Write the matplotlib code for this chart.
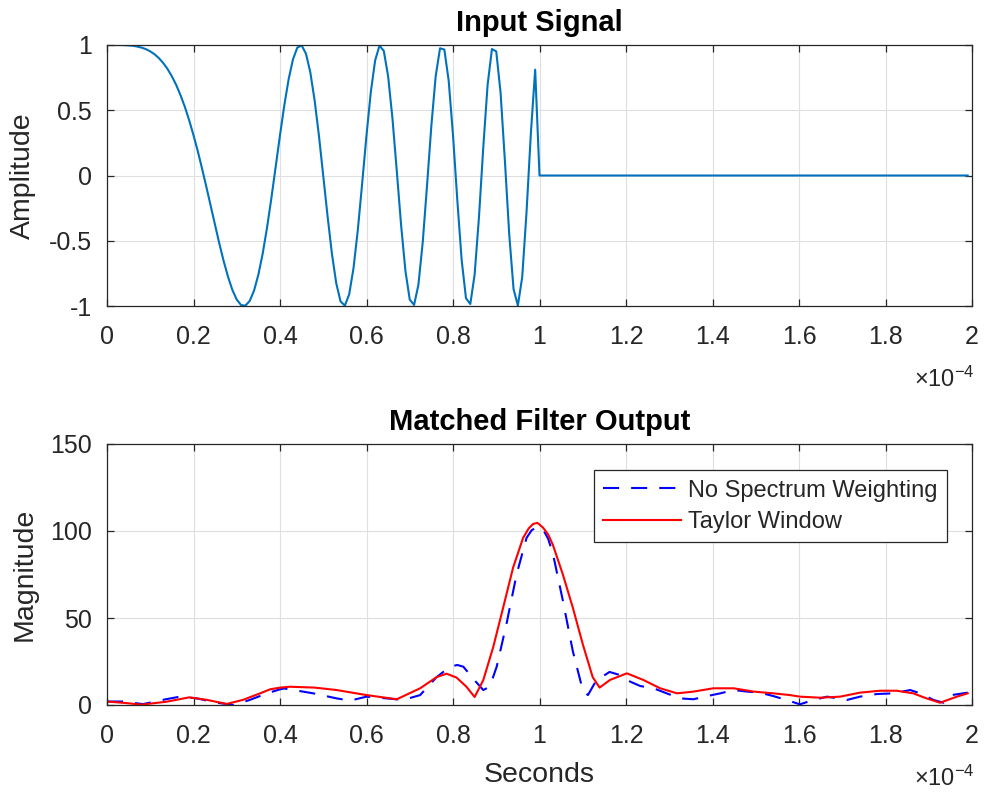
import numpy as np
import matplotlib
matplotlib.use("Agg")
import matplotlib.pyplot as plt

plt.rcParams['font.family'] = ['Liberation Sans', 'DejaVu Sans']
plt.rcParams['mathtext.fontset'] = 'custom'
plt.rcParams['mathtext.rm'] = 'Liberation Sans'
plt.rcParams['mathtext.it'] = 'Liberation Sans:italic'

# ---------------- data (time in units of 1e-4 s) ----------------
sample_step = 0.01  # 1 microsecond samples
pulse_values = [
    1.000, 1.000, 1.000, 1.000, 0.999, 0.997, 0.994, 0.988, 0.980, 0.968,
    0.951, 0.929, 0.899, 0.862, 0.816, 0.760, 0.694, 0.615, 0.526, 0.423,
    0.309, 0.185, 0.050, -0.091, -0.236, -0.383, -0.526, -0.659, -0.778, -0.878,
    -0.951, -0.993, -0.997, -0.961, -0.882, -0.760, -0.598, -0.400, -0.175, 0.066,
    0.309, 0.539, 0.738, 0.890, 0.980, 0.997, 0.934, 0.792, 0.577, 0.306,
    0.000, -0.312, -0.598, -0.825, -0.965, -0.997, -0.910, -0.709, -0.415, -0.060,
    0.309, 0.640, 0.882, 0.995, 0.955, 0.760, 0.438, 0.035, -0.380, -0.731,
    -0.951, -0.992, -0.838, -0.512, -0.075, 0.383, 0.762, 0.975, 0.965, 0.727,
    0.309, -0.190, -0.647, -0.940, -0.985, -0.760, -0.321, 0.215, 0.694, 0.969,
    0.951, 0.635, 0.113, -0.451, -0.870, -0.997, -0.779, -0.282, 0.321, 0.811,
]
n_idle = 100  # samples after the pulse, signal is zero

nosw_t = [0.00, 0.04, 0.083, 0.138, 0.169, 0.208, 0.254, 0.293, 0.33, 0.37,
          0.40, 0.41, 0.477, 0.531, 0.562, 0.60, 0.647, 0.685, 0.724, 0.762,
          0.793, 0.81, 0.824, 0.847, 0.870, 0.885, 0.901, 0.924, 0.947, 0.970,
          0.982, 0.993, 1.008, 1.020, 1.031, 1.054, 1.077, 1.100, 1.112, 1.131,
          1.162, 1.186, 1.21, 1.233, 1.264, 1.294, 1.325, 1.356, 1.387, 1.418,
          1.449, 1.48, 1.51, 1.541, 1.571, 1.602, 1.634, 1.665, 1.711, 1.741,
          1.78, 1.818, 1.857, 1.88, 1.911, 1.934, 1.953, 1.99]
nosw_v = [2.0, 2.0, 0.5, 3.4, 4.8, 3.8, 1.3, 0.0, 2.9, 6.7,
          9.0, 9.5, 6.7, 3.8, 2.5, 4.8, 3.8, 2.9, 5.7, 16.0,
          22.0, 23.0, 22.0, 15.0, 8.6, 10.5, 22.0, 47.0, 75.0, 96.0,
          100.5, 102.0, 101.0, 95.5, 87.0, 60.0, 31.0, 8.6, 5.7, 14.0,
          19.0, 17.2, 13.4, 10.9, 9.6, 6.7, 3.8, 3.3, 5.1, 6.7,
          8.6, 7.7, 7.1, 5.1, 2.9, 0.4, 2.9, 4.8, 2.9, 4.8,
          6.3, 6.7, 8.6, 6.7, 2.9, 1.3, 5.7, 7.1]

taylor_t = [0.00, 0.04, 0.08, 0.138, 0.19, 0.23, 0.277, 0.315, 0.354, 0.377,
            0.40, 0.423, 0.48, 0.531, 0.60, 0.67, 0.724, 0.762, 0.785, 0.808,
            0.831, 0.85, 0.87, 0.893, 0.916, 0.939, 0.962, 0.975, 0.985, 0.995,
            1.008, 1.020, 1.031, 1.054, 1.077, 1.100, 1.123, 1.139, 1.163, 1.202,
            1.240, 1.279, 1.318, 1.356, 1.402, 1.449, 1.495, 1.541, 1.579, 1.602,
            1.649, 1.695, 1.741, 1.787, 1.826, 1.864, 1.895, 1.926, 1.965, 1.99]
taylor_v = [2.0, 1.2, 0.2, 1.9, 4.4, 3.0, 0.6, 3.0, 6.7, 9.0,
            10.0, 10.5, 10.0, 8.6, 5.7, 3.3, 9.6, 16.0, 18.0, 15.8,
            10.5, 4.6, 14.3, 33.3, 56.0, 79.0, 96.0, 101.5, 104.0, 104.7,
            102.0, 98.0, 92.0, 75.0, 56.0, 35.0, 16.0, 10.0, 14.4, 18.2,
            14.4, 9.6, 6.7, 7.7, 9.6, 9.6, 7.7, 6.7, 5.7, 4.8,
            4.2, 4.8, 7.1, 8.2, 8.2, 6.7, 3.8, 1.3, 4.8, 6.7]

x_ticks = [0, 0.2, 0.4, 0.6, 0.8, 1, 1.2, 1.4, 1.6, 1.8, 2]
x_ticklabels = ['0', '0.2', '0.4', '0.6', '0.8', '1', '1.2', '1.4', '1.6', '1.8', '2']
amp_ticks = [-1, -0.5, 0, 0.5, 1]
amp_ticklabels = ['-1', '-0.5', '0', '0.5', '1']
mag_ticks = [0, 50, 100, 150]
mag_ticklabels = ['0', '50', '100', '150']

# ---------------- figure ----------------
W, H = 984, 792
fig = plt.figure(figsize=(W / 100, H / 100), dpi=100)
fig.patch.set_facecolor('white')

def px_axes(left, top, right, bottom):
    return fig.add_axes([left / W, 1 - bottom / H, (right - left) / W, (bottom - top) / H])

ax1 = px_axes(107, 45, 972, 306)
ax2 = px_axes(107, 444, 972, 705)

TXT = '#262626'
TICK_FS = 18
LABEL_FS = 20.5
TITLE_FS = 21

def style(ax, yticks, yticklabels, ylim):
    ax.set_xlim(0, 2)
    ax.set_ylim(*ylim)
    ax.set_xticks(x_ticks)
    ax.set_xticklabels(x_ticklabels)
    ax.set_yticks(yticks)
    ax.set_yticklabels(yticklabels)
    ax.grid(True, color='#dfdfdf', linewidth=0.8)
    ax.set_axisbelow(True)
    for s in ax.spines.values():
        s.set_color(TXT)
        s.set_linewidth(0.9)
    ax.tick_params(direction='in', length=5, width=0.9, colors=TXT,
                   top=True, right=True, labelsize=TICK_FS)
    ax.tick_params(axis='x', pad=14)
    ax.tick_params(axis='y', pad=11)

# top: input signal
t_sig = np.arange(len(pulse_values) + n_idle) * sample_step
sig = np.concatenate([pulse_values, np.zeros(n_idle)])
ax1.plot(t_sig, sig, color='#0072BD', linewidth=1.5)
style(ax1, amp_ticks, amp_ticklabels, (-1, 1))
ax1.set_title('Input Signal', fontsize=TITLE_FS, fontweight='bold', color='black', pad=10)
ax1.set_ylabel('Amplitude', fontsize=LABEL_FS, color=TXT, labelpad=9)

# bottom: matched filter output
ax2.plot(nosw_t, nosw_v, color='blue', linestyle='--', dashes=(7.7, 5.8),
         linewidth=1.5, label='No Spectrum Weighting')
ax2.plot(taylor_t, taylor_v, color='red', linewidth=1.5, label='Taylor Window')
style(ax2, mag_ticks, mag_ticklabels, (0, 150))
ax2.set_title('Matched Filter Output', fontsize=TITLE_FS, fontweight='bold', color='black', pad=10)
ax2.set_ylabel('Magnitude', fontsize=LABEL_FS, color=TXT, labelpad=9)
ax2.set_xlabel('Seconds', fontsize=LABEL_FS, color=TXT, labelpad=10)

leg = ax2.legend(loc='upper right', bbox_to_anchor=(0.971, 0.900), borderaxespad=0,
                 fontsize=17, frameon=True, fancybox=False, framealpha=1,
                 edgecolor=TXT, handlelength=3.3, handletextpad=0.3,
                 labelspacing=0.4, borderpad=0.4)
leg.get_frame().set_linewidth(0.9)
for txt in leg.get_texts():
    txt.set_color(TXT)

# exponent labels (x axis scale 1e-4 s)
for ax in (ax1, ax2):
    ax.text(1.003, -0.31, r'$\times10^{-4}$', transform=ax.transAxes,
            ha='right', va='baseline', fontsize=17, color=TXT)

fig.savefig('out.png', dpi=100, facecolor='white')
